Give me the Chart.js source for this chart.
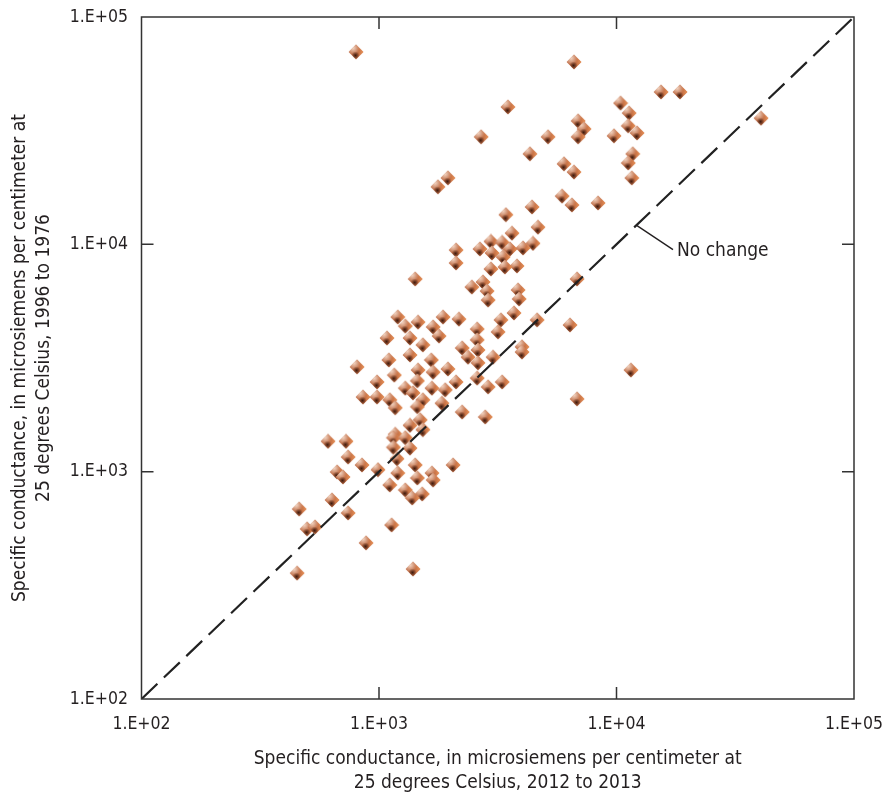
<!DOCTYPE html>
<html>
<head>
<meta charset="utf-8">
<script src="https://cdn.jsdelivr.net/npm/chart.js@4.4.1/dist/chart.umd.min.js"></script>
<style>
  html, body { margin: 0; padding: 0; background: #fff; }
</style>
</head>
<body>
<canvas id="sc-chart" width="882" height="797"></canvas>
<script>
// Specific conductance, microsiemens per centimeter at 25 degrees Celsius
// x: 2012 to 2013 sample, y: 1996 to 1976 sample (same well)
const sc2012 = [
  800, 6620, 15400, 18500, 10400, 3490, 11300, 40600, 6890, 11200,
  7300, 12200, 2690, 5150, 6890, 9760, 4320, 11700, 6010, 6620,
  11200, 11600, 1950, 1770, 5900, 8360, 6490, 4410, 3420, 4670,
  3630, 2960, 3300, 4450, 2660, 2110, 3560, 4040, 2990, 3330,
  2110, 3810, 3390, 2960, 1420, 6820, 2740, 2460, 2850, 3850,
  2880, 3890, 3700, 1200, 1460, 1860, 2170, 3260, 4630, 6370,
  1290, 1690, 1790, 2590, 3170, 1080, 1350, 1530, 2590, 2240,
  2610, 4000, 4000, 1350, 2370, 3020, 1100, 1660, 2610, 808,
  1460, 1690, 1950, 11500, 1160, 2590, 1450, 981, 2110, 3300,
  1290, 1670, 2880, 1900, 1390, 856, 981, 6820, 1110, 1530,
  1840, 1170, 1450, 2240, 2800, 1490, 1350, 1530, 1170, 610,
  726, 1150, 1290, 1150, 1350, 741, 1190, 848, 1420, 2050,
  990, 666, 1200, 1670, 705, 1450, 1690, 1110, 1290, 1520,
  1380, 634, 461, 741, 1130, 498, 538, 882, 452, 1390
];
const sc1976 = [
  70200, 63400, 46800, 46800, 41800, 40200, 37800, 35900, 34900, 33200,
  32200, 30900, 29700, 29700, 29700, 30000, 25000, 25000, 22600, 20800,
  22800, 19600, 19600, 17900, 16300, 15200, 14900, 14600, 13500, 11900,
  11200, 10300, 10200, 10100, 9540, 9440, 9540, 9640, 9160, 8800,
  8280, 8030, 7950, 7790, 7040, 7040, 6830, 6490, 6230, 6300,
  5690, 5750, 4990, 4790, 4550, 4790, 4690, 4650, 4650, 4420,
  4370, 4330, 3950, 4240, 4120, 3870, 3870, 3610, 3800, 3500,
  3430, 3540, 3360, 3260, 3190, 3190, 3100, 3100, 3010, 2890,
  2800, 2740, 2830, 2800, 2660, 2580, 2510, 2480, 2480, 2480,
  2330, 2330, 2360, 2290, 2220, 2130, 2130, 2090, 2070, 2070,
  2000, 1910, 1930, 1830, 1740, 1690, 1600, 1530, 1460, 1360,
  1360, 1410, 1410, 1280, 1270, 1160, 1140, 1070, 1070, 1070,
  1020, 997, 986, 986, 948, 938, 919, 874, 831, 798,
  766, 751, 685, 658, 583, 560, 571, 486, 358, 373
];
const tickValues = [100, 1000, 10000, 100000];
const tickLabels = ['1.E+02', '1.E+03', '1.E+04', '1.E+05'];
const noChangeLine = [100, 100000];
const noChangeLabelAt = 12200;

const FONT = "'Liberation Sans Narrow', 'Arial Narrow', 'DejaVu Sans Condensed', sans-serif";
const INK = '#231f20';

// little shaded diamond used for every sample
function makeMarker() {
  const c = document.createElement('canvas');
  c.width = 16; c.height = 16;
  const g = c.getContext('2d');
  g.beginPath();
  g.moveTo(8, 0.6); g.lineTo(15.4, 8); g.lineTo(8, 15.4); g.lineTo(0.6, 8);
  g.closePath();
  g.save();
  g.clip();
  g.fillStyle = '#bd6840';
  g.fillRect(0, 0, 16, 16);
  // pale top-left face
  const hi = g.createRadialGradient(5, 4, 0, 5, 4, 7);
  hi.addColorStop(0, 'rgba(246,222,206,0.95)');
  hi.addColorStop(1, 'rgba(246,222,206,0)');
  g.fillStyle = hi;
  g.fillRect(0, 0, 16, 16);
  // orange right-hand edge
  const rim = g.createLinearGradient(9, 8, 16, 8);
  rim.addColorStop(0, 'rgba(240,150,90,0)');
  rim.addColorStop(1, 'rgba(244,160,96,0.9)');
  g.fillStyle = rim;
  g.fillRect(0, 0, 16, 16);
  // dark shadow near the bottom
  const sh = g.createRadialGradient(7.5, 11.5, 0, 7.5, 11.5, 4);
  sh.addColorStop(0, 'rgba(40,14,6,0.85)');
  sh.addColorStop(1, 'rgba(40,14,6,0)');
  g.fillStyle = sh;
  g.fillRect(0, 0, 16, 16);
  g.restore();
  return c;
}

const points = sc2012.map((v, i) => ({ x: v, y: sc1976[i] }));

const framePlugin = {
  id: 'frame',
  afterDatasetsDraw(chart) {
    const { ctx, chartArea: a, scales: { x, y } } = chart;
    ctx.save();
    ctx.strokeStyle = '#333';
    ctx.lineWidth = 1.5;
    ctx.strokeRect(a.left, a.top, a.right - a.left, a.bottom - a.top);
    // inward tick marks on all four sides
    ctx.beginPath();
    tickValues.slice(1, -1).forEach(v => {
      const px = x.getPixelForValue(v), py = y.getPixelForValue(v);
      ctx.moveTo(px, a.bottom); ctx.lineTo(px, a.bottom - 12);
      ctx.moveTo(px, a.top); ctx.lineTo(px, a.top + 12);
      ctx.moveTo(a.left, py); ctx.lineTo(a.left + 12, py);
      ctx.moveTo(a.right, py); ctx.lineTo(a.right - 12, py);
    });
    ctx.stroke();
    // leader and label for the 1:1 line
    const lx = x.getPixelForValue(noChangeLabelAt);
    const ly = y.getPixelForValue(noChangeLabelAt);
    ctx.strokeStyle = INK;
    ctx.lineWidth = 1.4;
    ctx.beginPath();
    ctx.moveTo(lx, ly + 1);
    ctx.lineTo(lx + 36, ly + 25);
    ctx.stroke();
    ctx.fillStyle = INK;
    ctx.font = '19px ' + FONT;
    ctx.textAlign = 'left';
    ctx.textBaseline = 'middle';
    ctx.fillText('No change', lx + 40, ly + 26);
    ctx.restore();
  }
};

const axisTicks = {
  color: INK,
  font: { family: FONT, size: 17.5 },
  autoSkip: false,
  maxRotation: 0,
  callback: v => tickLabels[tickValues.indexOf(v)] ?? ''
};

new Chart(document.getElementById('sc-chart'), {
  type: 'scatter',
  data: {
    datasets: [
      {
        type: 'line',
        data: noChangeLine.map(v => ({ x: v, y: v })),
        borderColor: '#222',
        borderWidth: 2.2,
        borderDash: [22, 9],
        pointRadius: 0,
        showLine: true,
        fill: false
      },
      {
        data: points,
        pointStyle: makeMarker(),
        pointRadius: 8
      }
    ]
  },
  plugins: [framePlugin],
  options: {
    responsive: false,
    animation: false,
    layout: { padding: { left: 0, right: 28, top: 17, bottom: 0 } },
    plugins: { legend: { display: false }, tooltip: { enabled: false } },
    scales: {
      x: {
        type: 'logarithmic',
        min: 100, max: 100000,
        afterBuildTicks: s => { s.ticks = tickValues.map(v => ({ value: v })); },
        afterFit: s => { s.height = 98; s.paddingLeft = 0; s.paddingRight = 0; },
        grid: { display: false, drawTicks: false },
        border: { display: false },
        ticks: { ...axisTicks, padding: 15 },
        title: {
          display: true,
          text: ['Specific conductance, in microsiemens per centimeter at', '25 degrees Celsius, 2012 to 2013'],
          color: INK,
          font: { family: FONT, size: 19, lineHeight: 1.26 },
          padding: { top: 0, bottom: 2 }
        }
      },
      y: {
        type: 'logarithmic',
        min: 100, max: 100000,
        afterBuildTicks: s => { s.ticks = tickValues.map(v => ({ value: v })); },
        afterFit: s => { s.width = 141.5; s.paddingTop = 0; s.paddingBottom = 0; },
        grid: { display: false, drawTicks: false },
        border: { display: false },
        ticks: { ...axisTicks, padding: 13.5 },
        title: {
          display: true,
          text: ['Specific conductance, in microsiemens per centimeter at', '25 degrees Celsius, 1996 to 1976'],
          color: INK,
          font: { family: FONT, size: 19, lineHeight: 1.26 },
          padding: { top: 8, bottom: 0 }
        }
      }
    }
  }
});
</script>
</body>
</html>
